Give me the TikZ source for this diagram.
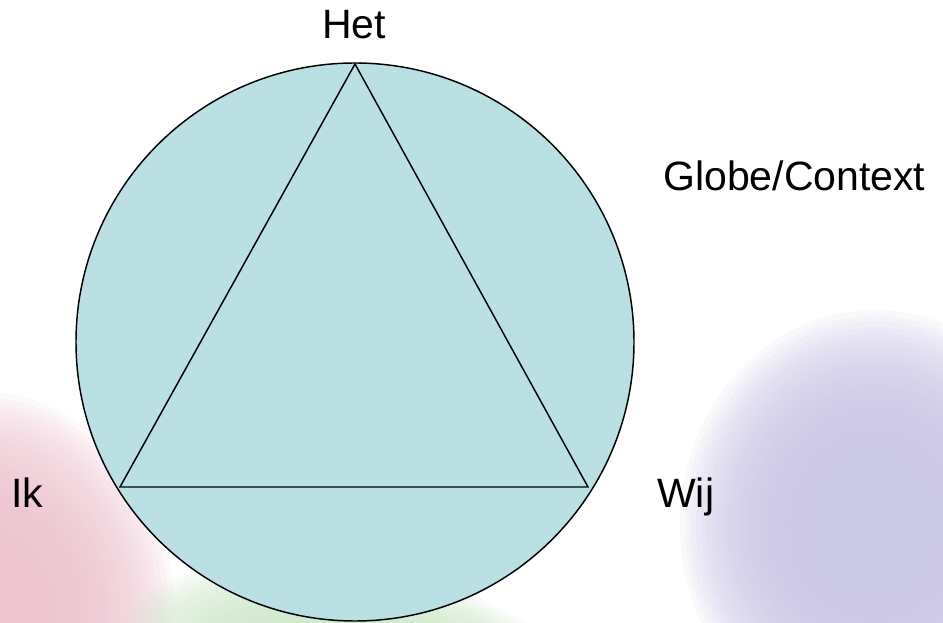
\documentclass[tikz,border=0pt]{standalone}
\usepackage{fontspec}
\setmainfont{Liberation Sans}
\definecolor{globefill}{RGB}{187,224,227}
\definecolor{pinkblob}{RGB}{236,194,206}
\definecolor{greenblob}{RGB}{204,230,199}
\definecolor{purpleblob}{RGB}{200,196,228}
% soft blob: colour, centre, x radius, y radius, rotation
\newcommand\softblob[5]{%
  \foreach \k in {0,...,23}{%
    \pgfmathsetmacro\blobf{1-0.62*\k/23}%
    \fill[#1, opacity=0.11, rotate around={#5:(#2)}] (#2) ellipse [x radius=#3*\blobf, y radius=#4*\blobf];
  }}
\begin{document}
\begin{tikzpicture}[x=0.75pt,y=-0.75pt,
  lbl/.style={font=\fontsize{30.75}{36}\selectfont, inner sep=0pt, anchor=base west},
  edge/.style={draw=black, line width=1.1pt, line join=miter}]
\useasboundingbox (0,0) rectangle (943,623);
\clip (0,0) rectangle (943,623);
% soft background blobs
\softblob{pinkblob}{-25,615}{200}{225}{0}
\softblob{greenblob}{360,685}{245}{120}{-12}
\softblob{purpleblob}{875,525}{195}{215}{0}
% globe
\draw[edge, fill=globefill] (355,342) circle [radius=279];
\coordinate (top) at (355,64);
\coordinate (left) at (120,487);
\coordinate (right) at (588,487);
\draw[edge] (top) -- (left) -- (right) -- cycle;
% labels
\node[lbl] (het) at (322,39) {Het};
\node[lbl] (globe) at (663,191) {Globe/Context};
\node[lbl] (ik) at (11,508) {Ik};
\node[lbl] (wij) at (657,508) {Wij};
\end{tikzpicture}
\end{document}
